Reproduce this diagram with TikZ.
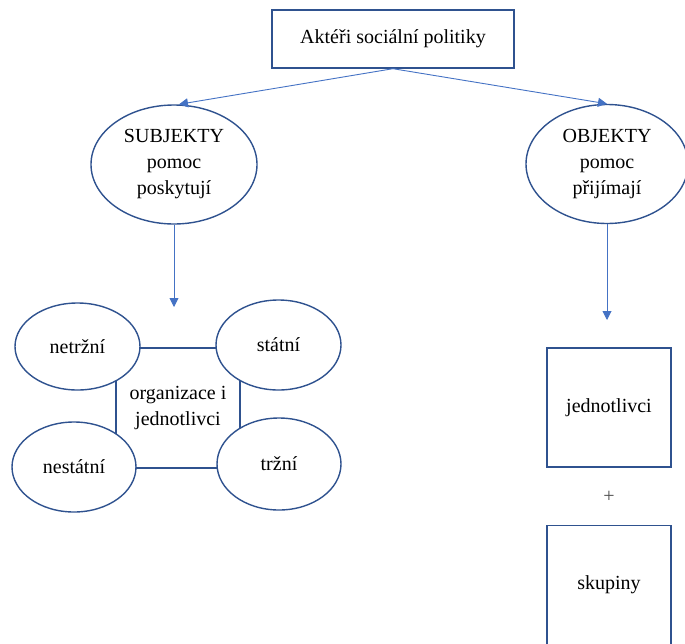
\documentclass[tikz,border=0pt]{standalone}
\usepackage{fontspec}
\setmainfont{Liberation Serif}
\usetikzlibrary{shapes.geometric,arrows.meta,calc}
\definecolor{outl}{HTML}{2F528F}
\definecolor{arr}{HTML}{4472C4}
\tikzset{
  txt/.style={font=\fontsize{20}{26}\selectfont, align=center, text=black},
  ell/.style={txt, ellipse, draw=outl, line width=1.4pt, fill=white, inner sep=0pt},
  boxn/.style={txt, rectangle, draw=outl, line width=1.4pt, fill=white, inner sep=0pt},
  conn/.style={draw=arr, line width=0.9pt, -{Triangle[width=9pt,length=9pt]}}
}
\begin{document}
\begin{tikzpicture}[x=1pt,y=-1pt]
\useasboundingbox (0,0) rectangle (685,643);
% top
\node[boxn, minimum width=242pt, minimum height=58pt] (top) at (393,39) {Aktéři sociální politiky};
\node[ell, minimum width=166pt, minimum height=119pt] (subj) at (174,164.5) {SUBJEKTY\\pomoc\\poskytují};
\node[ell, minimum width=162pt, minimum height=119pt] (obj) at (607,164) {OBJEKTY\\pomoc\\přijímají};
\draw[conn] (top.south) -- ($(subj.north)+(5,0)$);
\draw[conn] (top.south) -- (obj.north);
% left group
\coordinate (subjend) at (174,307);
\draw[conn] (subj.south) -- (subjend);
\node[boxn, minimum width=124pt, minimum height=120pt] (org) at (178,408) {organizace i\\jednotlivci};
\node[ell, minimum width=125pt, minimum height=87pt] (netr) at (77.5,346.5) {netržní};
\node[ell, minimum width=125pt, minimum height=90pt] (stat) at (278.5,345) {státní};
\node[ell, minimum width=124pt, minimum height=90pt] (nest) at (74,467) {nestátní};
\node[ell, minimum width=124pt, minimum height=92pt] (trz) at (279,464) {tržní};
% right group
\coordinate (objend) at (607,320);
\draw[conn] (obj.south) -- (objend);
\node[boxn, minimum width=124pt, minimum height=119pt] (jedn) at (609,407.5) {jednotlivci};
\node[txt, text=black!70] (plus) at (609,497) {+};
\node[boxn, minimum width=124pt, minimum height=119pt] (skup) at (609,585) {skupiny};
\end{tikzpicture}
\end{document}
